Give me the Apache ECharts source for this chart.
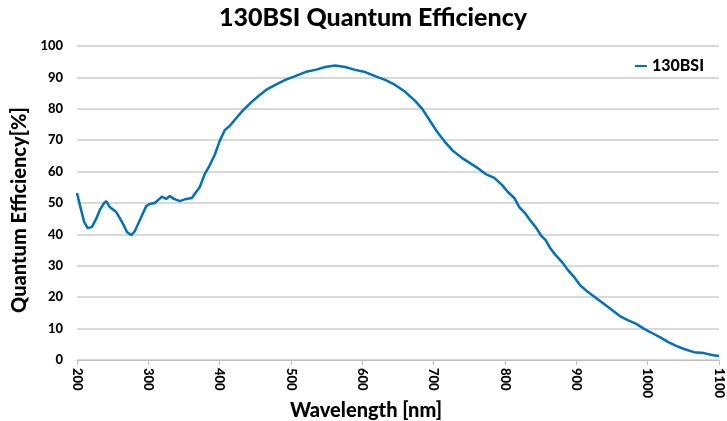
<!DOCTYPE html>
<html>
<head>
<meta charset="utf-8">
<script src="https://cdn.jsdelivr.net/npm/echarts@6/dist/echarts.min.js"></script>
<style>
  html, body { margin: 0; padding: 0; background: #fff; }
  #main { width: 727px; height: 421px; }
</style>
</head>
<body>
<div id="main"></div>
<script>
// 波长 (nm) 与量子效率 (%)
const wavelength = [200, 204, 210, 215, 221, 227, 232, 238, 241, 246, 255, 260, 266, 270, 276, 281, 287, 292, 297, 302,
  309, 314, 319, 325, 330, 336, 344, 353, 361, 367, 372, 379, 386, 393, 400, 407, 414, 423, 433, 443,
  454, 465, 478, 492, 506, 520, 534, 548, 562, 576, 590, 604, 618, 632, 646, 660, 674, 684, 695, 705,
  716, 727, 740, 751, 762, 773, 785, 796, 804, 813, 820, 828, 835, 844, 851, 857, 864, 871, 880, 888,
  897, 905, 916, 928, 939, 950, 961, 972, 984, 995, 1006, 1017, 1029, 1040, 1051, 1065, 1079, 1090, 1100]
const qe = [53.2, 49.4, 44, 42, 42.4, 45, 47.8, 50, 50.6, 48.7, 47.1, 45.2, 42.7, 40.8, 39.8, 41, 44, 46.5, 49, 49.7,
  50, 51, 52, 51.3, 52.2, 51.3, 50.6, 51.3, 51.6, 53.5, 55, 59.2, 62, 65.3, 69.7, 73.2, 74.5, 77, 79.6, 81.8,
  84, 86, 87.6, 89.2, 90.4, 91.7, 92.4, 93.3, 93.8, 93.3, 92.4, 91.7, 90.4, 89.2, 87.6, 85.4, 82.5, 80, 76.1, 72.6,
  69.4, 66.6, 64.3, 62.7, 61.1, 59.2, 58, 55.7, 53.5, 51.6, 48.7, 46.8, 44.6, 42, 39.5, 38.2, 35.4, 33.4, 31.2, 28.7,
  26.4, 23.9, 21.7, 19.7, 17.8, 15.9, 14, 12.7, 11.5, 9.9, 8.6, 7.3, 5.7, 4.5, 3.5, 2.5, 2.2, 1.6, 1.3]

let points = wavelength.map((w, i) => [w, qe[i]])

var myChart = echarts.init(document.getElementById('main'))

var option = {
    animation: false,
    textStyle: { fontFamily: 'Lato' },
    title: {
        text: '130BSI Quantum Efficiency',
        left: 219,
        top: 5,
        padding: 0,
        textStyle: { fontFamily: 'Lato', fontWeight: 900, fontSize: 25, color: '#000' }
    },
    legend: {
        right: 18,
        top: 53,
        itemWidth: 12,
        itemHeight: 2,
        icon: 'rect',
        itemGap: 4,
        textStyle: { fontFamily: 'Lato', fontWeight: 900, fontSize: 16, color: '#000' },
        data: ['130BSI']
    },
    grid: { left: 77, right: 8, top: 46, bottom: 61, outerBoundsMode: 'none' },
    xAxis: {
        type: 'value',
        min: 200,
        max: 1100,
        interval: 100,
        name: 'Wavelength [nm]',
        nameLocation: 'middle',
        nameGap: 41,
        nameMoveOverlap: false,
        nameTextStyle: { fontFamily: 'Lato', fontWeight: 900, fontSize: 20, color: '#000', padding: [0, 64, 0, 0] },
        axisLine: { lineStyle: { color: '#bfbfbf', width: 1 } },
        axisTick: { length: 5, lineStyle: { color: '#bfbfbf' } },
        axisLabel: { rotate: -90, fontWeight: 900, fontSize: 13, color: '#000', margin: 8, formatter: v => String(v) },
        splitLine: { show: false }
    },
    yAxis: {
        type: 'value',
        min: 0,
        max: 100,
        interval: 10,
        name: 'Quantum Efficiency[%]',
        nameLocation: 'middle',
        nameGap: 47,
        nameMoveOverlap: false,
        nameTextStyle: { fontFamily: 'Lato', fontWeight: 900, fontSize: 20, color: '#000', padding: [0, 14, 0, 0] },
        axisLine: { show: false },
        axisTick: { show: false },
        axisLabel: { fontWeight: 900, fontSize: 13, color: '#000', margin: 14 },
        splitLine: { lineStyle: { color: '#d9d9d9', width: 2 } }
    },
    series: [
        {
            name: '130BSI',
            type: 'line',
            data: points,
            showSymbol: false,
            lineStyle: { color: '#0070c0', width: 2.5 },
            itemStyle: { color: '#0070c0' }
        }
    ]
}

myChart.setOption(option)
</script>
</body>
</html>
